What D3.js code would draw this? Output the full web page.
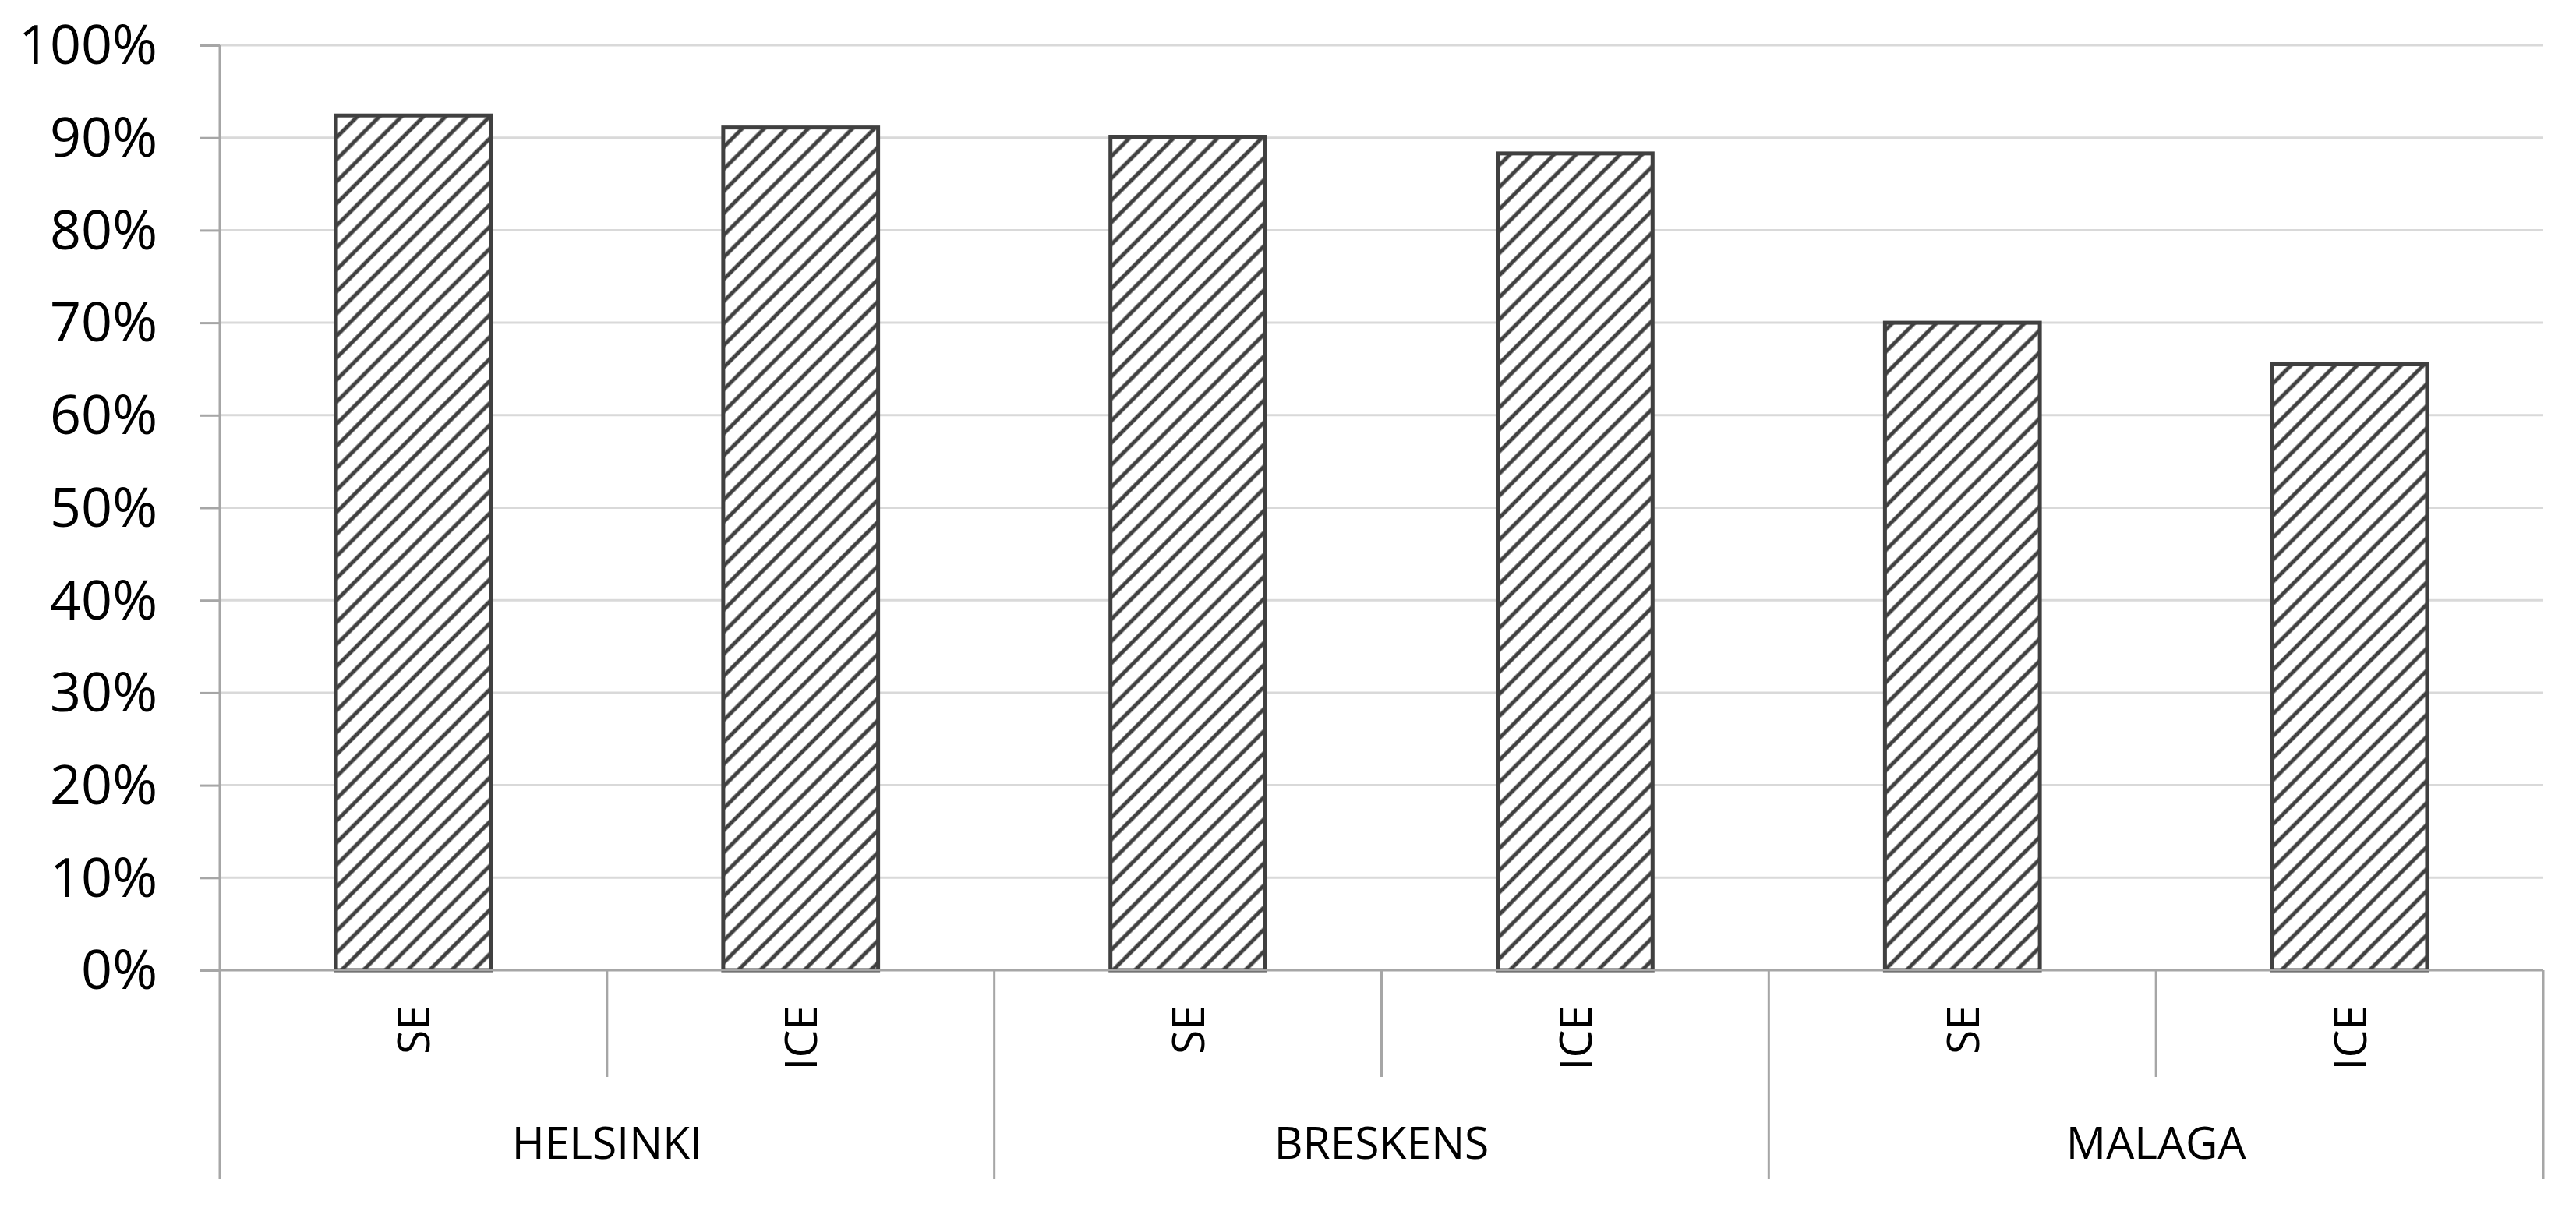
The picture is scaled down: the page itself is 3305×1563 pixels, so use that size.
<!DOCTYPE html>
<html>
<head>
<meta charset="utf-8">
<script src="https://cdn.jsdelivr.net/npm/d3@7"></script>
<style>
  html, body { margin: 0; padding: 0; background: #ffffff; }
  svg { display: block; }
  text { font-family: "Open Sans", "Noto Sans", sans-serif; fill: #000; }
</style>
</head>
<body>
<svg id="chart" width="3305" height="1563"></svg>
<script>
// ---- data ----
const groups = ["HELSINKI", "BRESKENS", "MALAGA"];
const methods = ["SE", "ICE"];
const seValues = [0.924, 0.901, 0.700];
const iceValues = [0.911, 0.883, 0.655];
const yTickValues = [0, 0.1, 0.2, 0.3, 0.4, 0.5, 0.6, 0.7, 0.8, 0.9, 1.0];

// ---- layout ----
const plotLeft = 282, plotRight = 3263, plotTop = 58, plotBottom = 1245;
const subLineBottom = 1382, groupLineBottom = 1513;

const svg = d3.select("#chart");

const rows = [];
groups.forEach((g, gi) => {
  rows.push({ group: g, method: methods[0], value: seValues[gi], key: g + "-" + methods[0] });
  rows.push({ group: g, method: methods[1], value: iceValues[gi], key: g + "-" + methods[1] });
});

const x = d3.scaleBand()
  .domain(rows.map(d => d.key))
  .range([plotLeft, plotRight])
  .paddingInner(0.6)
  .paddingOuter(0.3);

const xg = d3.scaleBand()
  .domain(groups)
  .range([plotLeft, plotRight])
  .padding(0);

const y = d3.scaleLinear().domain([0, 1]).range([plotBottom, plotTop]);

// hatch pattern
const defs = svg.append("defs");
const pat = defs.append("pattern")
  .attr("id", "hatch")
  .attr("patternUnits", "userSpaceOnUse")
  .attr("width", 20)
  .attr("height", 20)
  .attr("patternTransform", "rotate(45)");
pat.append("rect").attr("width", 20).attr("height", 20).attr("fill", "#ffffff");
pat.append("line")
  .attr("x1", 10).attr("y1", 0).attr("x2", 10).attr("y2", 20)
  .attr("stroke", "#404040").attr("stroke-width", 5);

// gridlines
svg.append("g")
  .selectAll("line")
  .data(yTickValues.filter(v => v > 0))
  .join("line")
  .attr("x1", plotLeft).attr("x2", plotRight)
  .attr("y1", d => y(d)).attr("y2", d => y(d))
  .attr("stroke", "#d9d9d9").attr("stroke-width", 3);

// y axis
const yAxis = svg.append("g")
  .attr("transform", `translate(${plotLeft},0)`)
  .call(d3.axisLeft(y).tickValues(yTickValues).tickFormat(d3.format(".0%")).tickSize(25).tickPadding(55));
yAxis.select(".domain").remove();
yAxis.selectAll(".tick line").attr("stroke", "#a6a6a6").attr("stroke-width", 3);
yAxis.selectAll(".tick text")
  .attr("font-size", 70)
  .attr("font-family", "'Open Sans', sans-serif")
  .attr("fill", "#000")
  .attr("dy", "0.34em");

// vertical axis line (extends down through category area)
svg.append("line")
  .attr("x1", plotLeft).attr("x2", plotLeft)
  .attr("y1", plotTop).attr("y2", groupLineBottom)
  .attr("stroke", "#a6a6a6").attr("stroke-width", 3);

// bars
svg.append("g")
  .selectAll("rect")
  .data(rows)
  .join("rect")
  .attr("x", d => x(d.key))
  .attr("width", x.bandwidth())
  .attr("y", d => y(d.value))
  .attr("height", d => y(0) - y(d.value))
  .attr("fill", "url(#hatch)")
  .attr("stroke", "#404040")
  .attr("stroke-width", 5);

// horizontal category axis line
svg.append("line")
  .attr("x1", plotLeft).attr("x2", plotRight)
  .attr("y1", y(0)).attr("y2", y(0))
  .attr("stroke", "#a6a6a6").attr("stroke-width", 3);

// sub-category separators (within groups)
const step = x.step();
svg.append("g")
  .selectAll("line")
  .data(groups)
  .join("line")
  .attr("x1", g => xg(g) + xg.bandwidth() / 2)
  .attr("x2", g => xg(g) + xg.bandwidth() / 2)
  .attr("y1", y(0)).attr("y2", subLineBottom)
  .attr("stroke", "#a6a6a6").attr("stroke-width", 3);

// group separators
svg.append("g")
  .selectAll("line")
  .data(groups)
  .join("line")
  .attr("x1", g => xg(g) + xg.bandwidth())
  .attr("x2", g => xg(g) + xg.bandwidth())
  .attr("y1", y(0)).attr("y2", groupLineBottom)
  .attr("stroke", "#a6a6a6").attr("stroke-width", 3);

// sub-category labels (rotated)
svg.append("g")
  .selectAll("text")
  .data(rows)
  .join("text")
  .attr("transform", d => `translate(${x(d.key) + x.bandwidth() / 2 + 21},1290) rotate(-90)`)
  .attr("text-anchor", "end")
  .attr("font-size", 57)
  .text(d => d.method);

// group labels
svg.append("g")
  .selectAll("text")
  .data(groups)
  .join("text")
  .attr("x", g => xg(g) + xg.bandwidth() / 2)
  .attr("y", 1487)
  .attr("text-anchor", "middle")
  .attr("font-size", 57)
  .text(g => g);
</script>
</body>
</html>
